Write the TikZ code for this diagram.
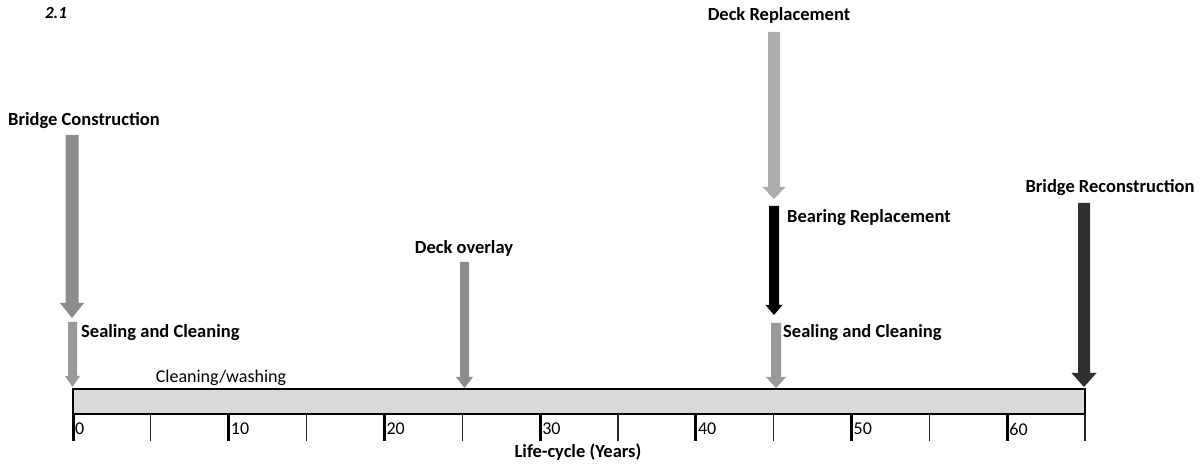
\documentclass[tikz,border=0pt]{standalone}
\usepackage{fontspec}
\setmainfont{Carlito}
\definecolor{gmid}{HTML}{8C8C8C}
\definecolor{gseal}{HTML}{999999}
\definecolor{glight}{HTML}{ADADAD}
\definecolor{gdark}{HTML}{303030}
\definecolor{barfill}{HTML}{D9D9D9}
% block arrow: x, top, tip, shaft width, head width, head length, colour
\newcommand{\blockarr}[7]{%
  \fill[#7] ({#1-#4/2},#2) -- ({#1+#4/2},#2) -- ({#1+#4/2},{#3-#6}) -- ({#1+#5/2},{#3-#6})
    -- (#1,#3) -- ({#1-#5/2},{#3-#6}) -- ({#1-#4/2},{#3-#6}) -- cycle;}
\tikzset{
  lbl/.style={font=\fontsize{18.5}{20}\selectfont\bfseries, inner sep=0pt},
  num/.style={font=\fontsize{18}{20}\selectfont, inner sep=0pt, anchor=west},
  bigtick/.style={line width=3pt},
  smalltick/.style={line width=1.2pt},
}
\begin{document}
\begin{tikzpicture}[x=1pt,y=-1pt]
\useasboundingbox (0,0) rectangle (1200,470);
% title
\node[font=\fontsize{17}{19}\selectfont\bfseries\itshape, inner sep=0pt] (title) at (56,13) {2.1};
% timeline bar
\draw[fill=barfill, line width=1.5pt] (73,389) rectangle (1085,414);
\node[inner sep=0pt] (bar) at (579,401.5) {};
% ticks and numbers
\foreach \i/\lab in {0/0,2/10,4/20,6/30,8/40,10/50,12/60}{
  \draw[bigtick] ({73+\i*77.85},414) -- ({73+\i*77.85},441);
  \node[num] (n\i) at ({75+\i*77.85},429) {\lab};
}
\foreach \i in {1,3,5,7,9,11,13}{
  \draw[smalltick, black!85] ({73+\i*77.85},414) -- ({73+\i*77.85},441);
}
\node[lbl] (axis) at (578,452) {Life-cycle (Years)};
\node[font=\fontsize{18}{20}\selectfont, inner sep=0pt] (wash) at (221,378) {Cleaning/washing};
% labels
\node[lbl] (bc) at (84,121) {Bridge Construction};
\node[lbl, anchor=west] (sc1) at (81,333) {Sealing and Cleaning};
\node[lbl] (do) at (464,248) {Deck overlay};
\node[lbl] (dr) at (779,15) {Deck Replacement};
\node[lbl, anchor=west] (br) at (787,218) {Bearing Replacement};
\node[lbl, anchor=west] (sc2) at (783,333) {Sealing and Cleaning};
\node[lbl] (rc) at (1110,188) {Bridge Reconstruction};
% arrows
\blockarr{72}{135}{318}{13}{24}{15}{gmid}
\blockarr{72.5}{322}{387}{9}{15}{11}{gseal}
\blockarr{464.5}{262}{388}{9}{17}{11}{gmid}
\blockarr{774}{32}{199}{12}{23}{12}{glight}
\blockarr{774}{206}{315}{10}{17}{10}{black}
\blockarr{776}{323}{388}{10}{20}{11}{gseal}
\blockarr{1084}{203}{387}{12}{25}{14}{gdark}
\end{tikzpicture}
\end{document}
